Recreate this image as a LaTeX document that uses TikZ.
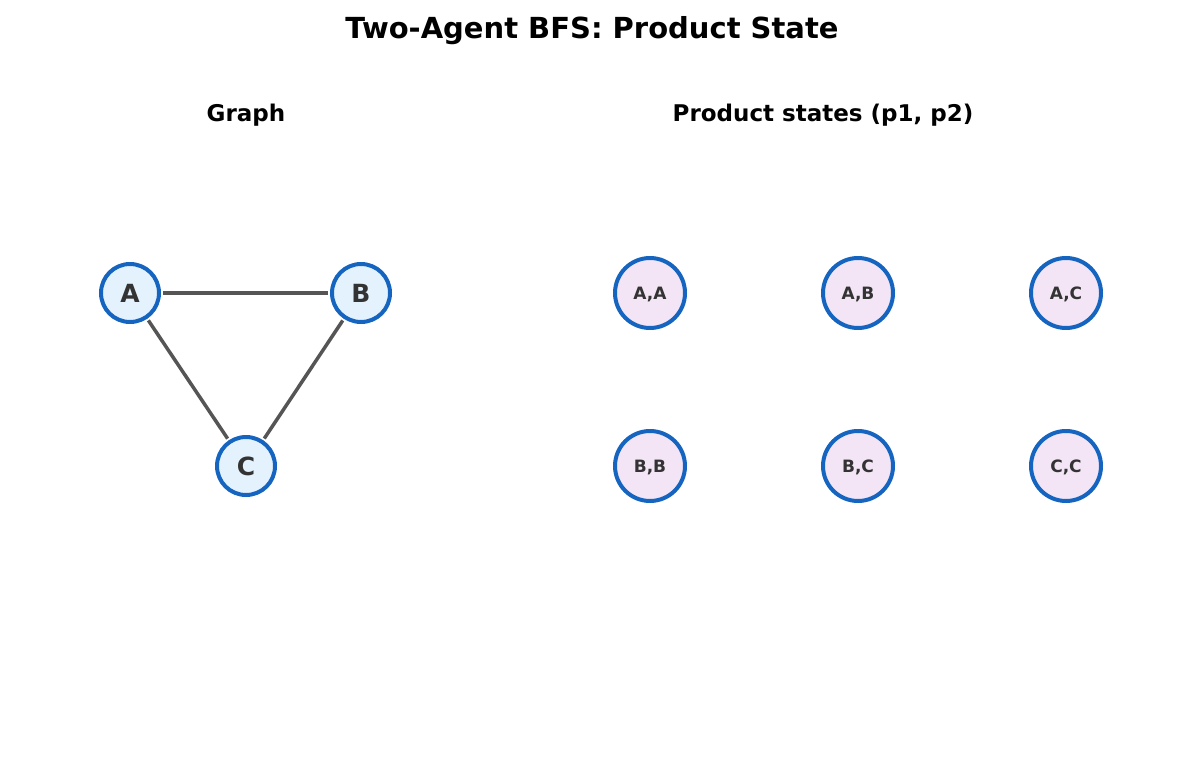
\documentclass[tikz,border=0pt]{standalone}
\usepackage{fontspec}
\setmainfont{DejaVu Sans}
\begin{document}
\begin{tikzpicture}[x=1pt,y=-1pt,
  gnode/.style={circle,draw=nodeblue,fill=gfill,line width=4pt,minimum size=58pt,inner sep=0pt,text=txt,text depth=0pt,font=\fontsize{25}{28}\selectfont\bfseries},
  pnode/.style={circle,draw=nodeblue,fill=pfill,line width=4pt,minimum size=70pt,inner sep=0pt,text=txt,text depth=0pt,font=\fontsize{17}{19}\selectfont\bfseries},
  edge/.style={draw=edgegray,line width=3.5pt,shorten <=2pt,shorten >=2pt},
  heading/.style={font=\fontsize{23}{26}\selectfont\bfseries}]
\definecolor{nodeblue}{HTML}{1565C0}
\definecolor{gfill}{HTML}{E3F2FD}
\definecolor{pfill}{HTML}{F3E5F5}
\definecolor{edgegray}{HTML}{555555}
\definecolor{txt}{HTML}{333333}
\useasboundingbox (0,0) rectangle (1185,770);
\node[font=\fontsize{29}{32}\selectfont\bfseries] (title) at (592,31) {Two-Agent BFS: Product State};
\node[heading] (h1) at (246,115) {Graph};
\node[heading] (h2) at (823,115) {Product states (p1, p2)};
\node[gnode] (A) at (130,293) {A};
\node[gnode] (B) at (361,293) {B};
\node[gnode] (C) at (246,466) {C};
\draw[edge] (A) -- (B);
\draw[edge] (A) -- (C);
\draw[edge] (B) -- (C);
\node[pnode] (AA) at (650,293) {A,A};
\node[pnode] (AB) at (858,293) {A,B};
\node[pnode] (AC) at (1066,293) {A,C};
\node[pnode] (BB) at (650,466) {B,B};
\node[pnode] (BC) at (858,466) {B,C};
\node[pnode] (CC) at (1066,466) {C,C};
\end{tikzpicture}
\end{document}
